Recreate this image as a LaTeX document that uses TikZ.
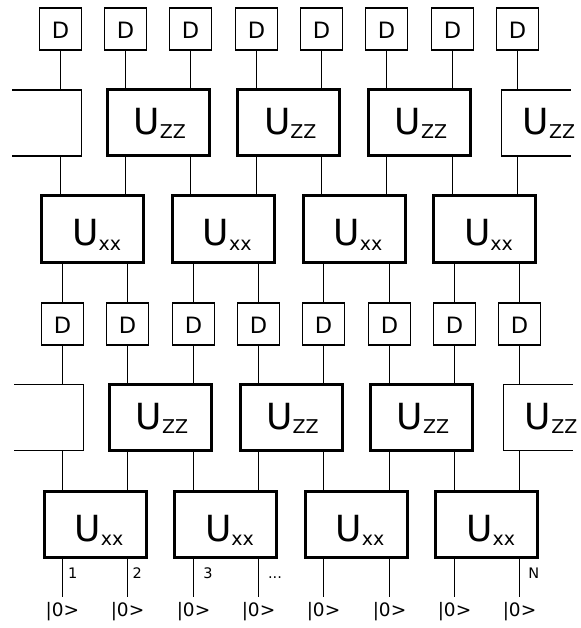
\documentclass[tikz,border=0pt]{standalone}
\usepackage{fontspec}
\setmainfont{DejaVu Sans}

% ゲートの文字 (U と添字), 省略可能な引数は左の空き
\newcommand{\gateU}[2][3pt]{\hspace*{#1}{\fontsize{36}{36}\selectfont U}\raisebox{-4.5pt}{\fontsize{19}{19}\selectfont #2}}
\newcommand{\wiredots}{...}

\tikzset{
  wire/.style={line width=1.2pt},
  dbox/.style={draw, line width=1.8pt, minimum size=42pt, inner sep=0pt,
    text height=19pt, text depth=0pt, font=\fontsize{22.5}{23}\selectfont},
  gate/.style={draw, line width=3pt, minimum width=102pt, minimum height=66pt,
    inner sep=0pt, text depth=0pt},
  zzgate/.style={gate, text height=23pt},
  xxgate/.style={gate, text height=33pt},
  halfgate/.style={minimum width=102pt, minimum height=66pt, inner sep=0pt,
    text height=23pt, text depth=0pt},
  halfedge/.style={line width=1.5pt},
  ket/.style={inner sep=5.4pt, font=\fontsize{18.5}{19}\selectfont},
  qlabel/.style={anchor=base west, inner sep=0pt, font=\fontsize{14.5}{15}\selectfont}
}

\begin{document}
\begin{tikzpicture}[x=1pt, y=-1pt]
    \useasboundingbox (0,0) rectangle (580,628);

    % D の箱と |0> (線がにじまないよう画素の中央に寄せる)
    \foreach \i in {1,...,8} {
        \pgfmathsetmacro{\xt}{floor(60.3+65.3*(\i-1))+0.5}
        \pgfmathsetmacro{\xb}{floor(62.5+65.3*(\i-1))+0.5}
        \node[dbox] (dT\i) at (\xt,28.7) {D};
        \node[dbox] (dM\i) at (\xb,324) {D};
        \node[ket] (in\i) at (\xb,611.7) {|0>};
    }

    % U_ZZ
    \foreach \j in {1,2,3} {
        \pgfmathsetmacro{\xt}{60.3+65.3*(2*\j-0.5)}
        \pgfmathsetmacro{\xb}{62.5+65.3*(2*\j-0.5)}
        \node[zzgate] (zT\j) at (\xt,123) {\gateU[2.8pt]{ZZ}};
        \node[zzgate] (zM\j) at (\xb,417.5) {\gateU[2.8pt]{ZZ}};
    }

    % U_xx
    \foreach \k in {1,...,4} {
        \pgfmathsetmacro{\xt}{60.3+65.3*(2*\k-1.5)}
        \pgfmathsetmacro{\xb}{62.5+65.3*(2*\k-1.5)}
        \node[xxgate] (uxT\k) at (\xt,229) {\gateU[7.4pt]{xx}};
        \node[xxgate] (uxB\k) at (\xb,524.7) {\gateU[7.4pt]{xx}};
    }

    % 端で切れているゲート
    \node[halfgate] (zT0) at (30.15,123) {};
    \node[halfgate] (zT4) at (552.55,123) {\gateU[-7.2pt]{ZZ}};
    \node[halfgate] (zM0) at (32.35,417.5) {};
    \node[halfgate] (zM4) at (554.75,417.5) {\gateU[-7.2pt]{ZZ}};
    \coordinate (cutTL) at (12,0);
    \coordinate (cutTR) at (570.7,0);
    \coordinate (cutML) at (14.3,0);
    \coordinate (cutMR) at (572.7,0);
    \draw[halfedge] (cutTL |- zT0.north) -- (zT0.north east) -- (zT0.south east) -- (cutTL |- zT0.south);
    \draw[halfedge] (cutTR |- zT4.north) -- (zT4.north west) -- (zT4.south west) -- (cutTR |- zT4.south);
    \draw[halfedge] (cutML |- zM0.north) -- (zM0.north east) -- (zM0.south east) -- (cutML |- zM0.south);
    \draw[halfedge] (cutMR |- zM4.north) -- (zM4.north west) -- (zM4.south west) -- (cutMR |- zM4.south);

    % 縦の線 (\j: U_ZZ, \k: U_xx)
    \foreach \i/\j/\k in {1/0/1, 2/1/1, 3/1/2, 4/2/2, 5/2/3, 6/3/3, 7/3/4, 8/4/4} {
        \draw[wire] (dT\i.south) -- (dT\i.south |- zT\j.north);
        \draw[wire] (dT\i.south |- zT\j.south) -- (dT\i.south |- uxT\k.north);
        \draw[wire] (dM\i.north |- uxT\k.south) -- (dM\i.north);
        \draw[wire] (dM\i.south) -- (dM\i.south |- zM\j.north);
        \draw[wire] (dM\i.south |- zM\j.south) -- (dM\i.south |- uxB\k.north);
        \draw[wire] (in\i.north |- uxB\k.south) -- (in\i.north);
    }

    % 番号
    \foreach \i/\t/\dx in {1/1/5.5, 2/2/4.5, 3/3/10, 4/\wiredots/9.5, 8/N/8.5} {
        \node[qlabel] (lab\i) at ({62.5+65.3*(\i-1)+\dx},578) {\t};
    }
\end{tikzpicture}
\end{document}
